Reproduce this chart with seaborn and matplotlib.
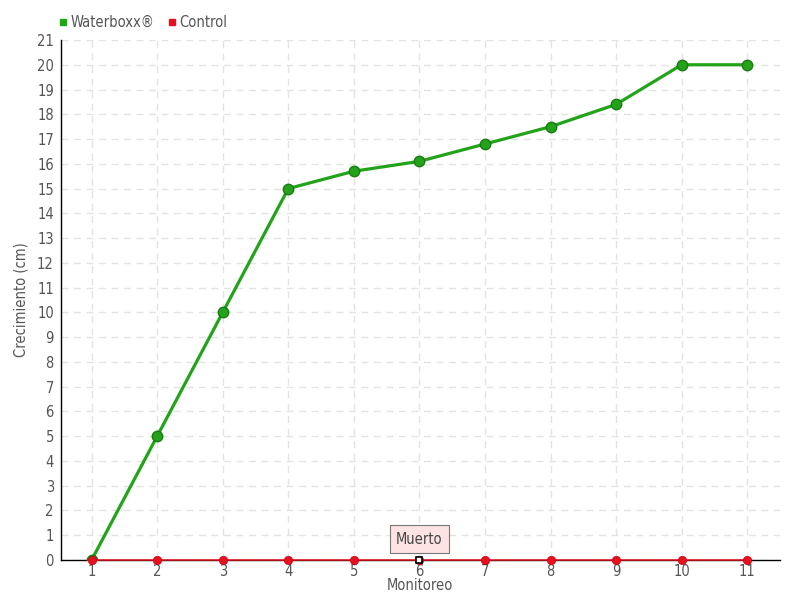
import seaborn as sns
import matplotlib.pyplot as plt
import pandas as pd
from matplotlib.lines import Line2D

# data
monitoreo = [1, 2, 3, 4, 5, 6, 7, 8, 9, 10, 11]
waterboxx = [0, 5, 10, 15, 15.7, 16.1, 16.8, 17.5, 18.4, 20, 20]
control = [0, 0, 0, 0, 0, 0, 0, 0, 0, 0, 0]
dead_point = 6
dead_label = "Muerto"

df = pd.DataFrame({
    "Monitoreo": monitoreo * 2,
    "Crecimiento": waterboxx + control,
    "Serie": ["Waterboxx®"] * len(monitoreo) + ["Control"] * len(monitoreo),
})

sns.set_style("white")
plt.rcParams['font.family'] = ['DejaVu Sans']
plt.rcParams['font.stretch'] = 'condensed'

fig = plt.figure(figsize=(8, 6), dpi=100)
ax = fig.add_axes([0.076, 0.0667, 0.899, 0.8666])

palette = {"Waterboxx®": "#22a31a", "Control": "#e8101e"}
edges = {"Waterboxx®": "#1a7a14", "Control": "#c80010"}

sns.lineplot(data=df[df.Serie == "Waterboxx®"], x="Monitoreo", y="Crecimiento",
             color=palette["Waterboxx®"], lw=2.3, marker="o", markersize=7.5,
             markeredgecolor=edges["Waterboxx®"], markeredgewidth=1, ax=ax, zorder=3)
sns.lineplot(data=df[df.Serie == "Control"], x="Monitoreo", y="Crecimiento",
             color=palette["Control"], lw=1.1, marker="o", markersize=6,
             markeredgecolor=edges["Control"], markeredgewidth=0.5, ax=ax, zorder=4,
             clip_on=False)

# dead marker on control
ax.plot([dead_point], [control[monitoreo.index(dead_point)]], marker="s", ms=4.5,
        mfc="white", mec="black", mew=1.2, zorder=6, clip_on=False)
ax.annotate(dead_label, xy=(dead_point, 0), xytext=(0, 15), textcoords="offset points",
            ha="center", va="center", fontsize=10.5, color="#444444",
            bbox=dict(boxstyle="square,pad=0.45", fc="#fde3e3", ec="#777777", lw=0.8),
            zorder=7)

ax.set_xlim(0.53, 11.5)
ax.set_ylim(0, 21)
ax.set_xticks(monitoreo)
ax.set_yticks(range(0, 22))
ax.grid(True, color="#e3e3e3", linestyle=(0, (5, 4)), lw=1)
for s in ["top", "right"]:
    ax.spines[s].set_visible(False)
for s in ["left", "bottom"]:
    ax.spines[s].set_color("black")
    ax.spines[s].set_linewidth(1)
ax.tick_params(axis="both", which="both", length=4, width=1, color="black",
               labelsize=10.5, labelcolor="#555555", pad=1, direction="out")
ax.tick_params(axis="x", pad=-1)

ax.set_xlabel("Monitoreo", fontsize=10.5, color="#555555", labelpad=-1)
ax.set_ylabel("Crecimiento (cm)", fontsize=10.5, color="#555555", labelpad=6)

handles = [Line2D([], [], marker="s", ls="", color=palette[k], ms=5) for k in palette]
fig.legend(handles, list(palette.keys()), loc="upper left", bbox_to_anchor=(0.052, 0.997),
           ncol=2, frameon=False, fontsize=10.5, handletextpad=-0.1, columnspacing=0.6,
           labelcolor="#555555", handlelength=1.2)

fig.savefig("out.png", dpi=100)
